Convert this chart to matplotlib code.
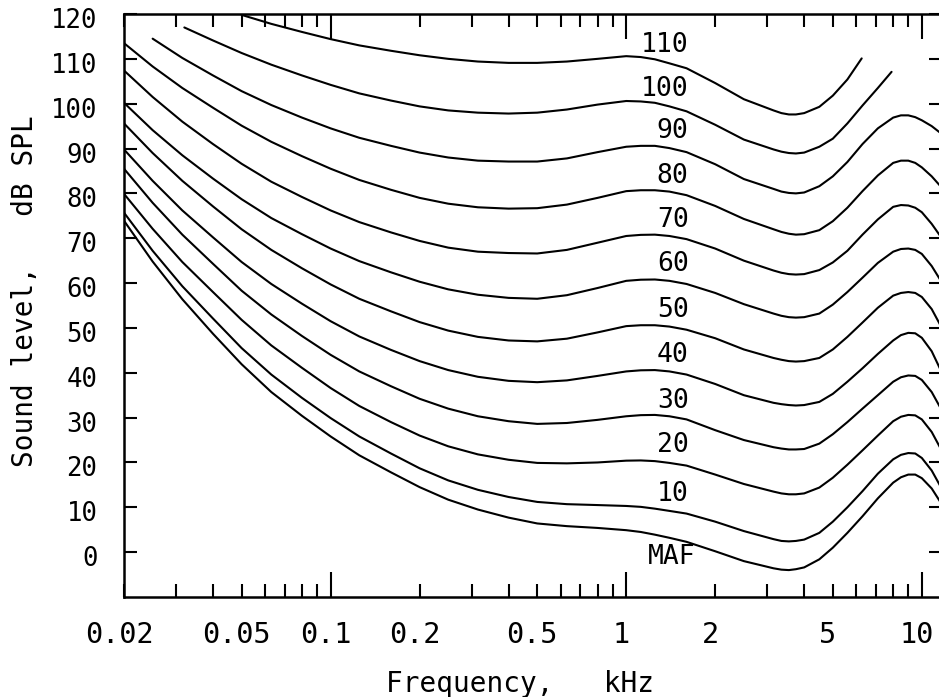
import matplotlib
matplotlib.use("Agg")
import matplotlib.pyplot as plt
from matplotlib.ticker import FixedLocator, FixedFormatter
from matplotlib.transforms import ScaledTranslation

# ---------------- data ----------------
freq = [0.02, 0.025, 0.0315, 0.04, 0.05, 0.063, 0.08, 0.1, 0.125, 0.16, 0.2, 0.25,
        0.315, 0.4, 0.5, 0.63, 0.8, 1.0, 1.12, 1.25, 1.4, 1.6, 2.0, 2.5, 3.15, 3.35,
        3.55, 3.75, 4.0, 4.5, 5.0, 5.6, 6.3, 7.1, 8.0, 8.5, 9.0, 9.5, 10.0, 10.8, 11.6]

maf = [73.9, 64.8, 56.4, 48.7, 41.9, 35.7, 30.4, 25.8, 21.6, 17.8, 14.5, 11.7, 9.5, 7.7,
       6.4, 5.8, 5.4, 4.9,
       4.5, 3.9, 3.2, 2.3, 0.2, -2.0, -3.6, -3.9, -4.0, -3.8, -3.4, -1.6, 1.0, 4.3, 8.0,
       12.0, 15.5, 16.7, 17.3, 17.3, 16.5, 14.2, 11.0]
phon10 = [75.7, 67.2, 59.3, 52.1, 45.5, 39.6, 34.4, 29.9, 25.8, 22.0, 18.7, 16.0, 13.9,
          12.3, 11.2, 10.7, 10.5, 10.3,
          10.1, 9.7, 9.2, 8.6, 6.8, 4.7, 2.9, 2.5, 2.4, 2.5, 2.8, 4.3, 6.8, 10.0, 13.6,
          17.5, 20.7, 21.7, 22.1, 22.0, 21.0, 18.2, 14.5]
phon20 = [79.9, 72.1, 64.7, 58.0, 51.8, 46.1, 41.1, 36.6, 32.6, 29.0, 26.0, 23.6, 21.8,
          20.6, 19.9, 19.8, 20.0, 20.4,
          20.45, 20.3, 19.9, 19.3, 17.3, 15.2, 13.5, 13.1, 12.9, 12.9, 13.1, 14.4, 16.6,
          19.5, 22.7, 26.0, 29.2, 30.2, 30.6, 30.5, 29.6, 26.8, 23.0]
phon30 = [85.5, 77.9, 70.8, 64.3, 58.3, 53.0, 48.2, 44.0, 40.3, 37.0, 34.2, 32.0, 30.3,
          29.2, 28.6, 28.8, 29.5, 30.3,
          30.55, 30.6, 30.3, 29.6, 27.2, 25.0, 23.4, 23.1, 22.9, 22.9, 23.0, 24.2, 26.3,
          29.0, 32.0, 35.0, 38.0, 39.0, 39.4, 39.3, 38.4, 35.7, 32.0]
phon40 = [89.8, 82.8, 76.2, 70.2, 64.7, 59.8, 55.4, 51.5, 48.1, 45.1, 42.6, 40.6, 39.1,
          38.2, 37.9, 38.3, 39.3, 40.3,
          40.55, 40.6, 40.3, 39.6, 37.5, 35.0, 33.3, 33.0, 32.8, 32.7, 32.8, 33.5, 35.3,
          38.0, 41.0, 44.2, 47.2, 48.4, 48.9, 48.8, 47.8, 44.8, 40.5]
phon50 = [95.6, 89.0, 82.8, 77.1, 72.0, 67.4, 63.3, 59.7, 56.5, 53.7, 51.3, 49.4, 48.0,
          47.2, 47.0, 47.6, 49.0, 50.4,
          50.6, 50.6, 50.3, 49.6, 47.7, 45.2, 43.3, 42.9, 42.6, 42.5, 42.6, 43.3, 45.2,
          48.0, 51.2, 54.5, 57.2, 57.8, 58.0, 57.8, 56.9, 54.2, 50.4]
phon60 = [100.2, 94.1, 88.5, 83.3, 78.7, 74.5, 70.9, 67.7, 64.9, 62.4, 60.3, 58.6, 57.4,
          56.7, 56.5, 57.3, 58.9, 60.5,
          60.75, 60.8, 60.5, 59.8, 57.8, 55.3, 53.2, 52.7, 52.4, 52.3, 52.4, 53.2, 55.2,
          58.0, 61.2, 64.5, 67.0, 67.6, 67.7, 67.4, 66.5, 63.8, 60.5]
phon70 = [107.4, 101.5, 96.0, 91.0, 86.6, 82.6, 79.2, 76.2, 73.6, 71.3, 69.4, 67.9, 67.0,
          66.7, 66.6, 67.4, 69.0, 70.5,
          70.75, 70.8, 70.5, 69.8, 67.7, 65.0, 62.8, 62.3, 62.0, 61.9, 62.0, 62.9, 64.6,
          67.2, 70.8, 74.2, 77.0, 77.4, 77.3, 76.8, 75.8, 73.2, 70.3]
phon80 = [113.5, 108.3, 103.5, 99.1, 95.1, 91.5, 88.3, 85.5, 83.0, 80.8, 79.0, 77.7, 76.9,
          76.6, 76.7, 77.5, 79.0, 80.5,
          80.7, 80.7, 80.4, 79.6, 77.2, 74.3, 72.0, 71.4, 71.0, 70.8, 70.9, 71.8, 73.8,
          76.8, 80.5, 84.0, 86.8, 87.3, 87.3, 86.8, 85.8, 83.8, 81.5]

freq90 = freq[1:]
phon90 = [114.5, 110.2, 106.3, 102.8, 99.7, 96.9, 94.5, 92.4, 90.6, 89.1, 88.0, 87.3,
          87.1, 87.1, 87.8, 89.2, 90.4,
          90.6, 90.6, 90.1, 89.2, 86.5, 83.2, 81.0, 80.4, 80.1, 80.0, 80.2, 81.6, 83.8,
          87.0, 91.0, 94.5, 96.9, 97.4, 97.4, 97.0, 96.3, 95.0, 93.4]

freq100 = [0.032, 0.04, 0.05, 0.063, 0.08, 0.1, 0.125, 0.16, 0.2, 0.25, 0.315, 0.4,
           0.5, 0.63, 0.8, 1.0, 1.12, 1.25, 1.4, 1.6, 2.0, 2.5, 3.15, 3.35, 3.55, 3.75,
           4.0, 4.5, 5.0, 5.6, 6.3, 7.1, 7.9]
phon100 = [117.0, 114.1, 111.3, 108.7, 106.3, 104.2, 102.3, 100.7, 99.4, 98.5, 98.0, 97.8,
           98.0, 98.7, 99.8, 100.6, 100.5, 100.2, 99.4, 98.3, 95.3, 92.0, 89.8, 89.3, 89.0,
           88.9, 89.1, 90.4, 92.2, 95.6, 99.6, 103.5, 107.1]

freq110 = [0.05, 0.063, 0.08, 0.1, 0.125, 0.16, 0.2, 0.25, 0.315, 0.4, 0.5, 0.63,
           0.8, 1.0, 1.12, 1.25, 1.4, 1.6, 2.0, 2.5, 3.15, 3.35, 3.55, 3.75, 4.0, 4.5,
           5.0, 5.6, 6.26]
phon110 = [119.8, 117.8, 116.0, 114.4, 113.0, 111.8, 110.8, 110.0, 109.4, 109.1, 109.1,
           109.4, 110.0, 110.6, 110.4, 109.9, 109.0, 107.9, 104.6, 101.0, 98.5, 97.9, 97.6,
           97.6, 97.9, 99.3, 101.8, 105.4, 110.1]

curves = [(freq, maf), (freq, phon10), (freq, phon20), (freq, phon30), (freq, phon40),
          (freq, phon50), (freq, phon60), (freq, phon70), (freq, phon80),
          (freq90, phon90), (freq100, phon100), (freq110, phon110)]

curve_labels = ["MAF", "10", "20", "30", "40", "50", "60", "70", "80", "90", "100", "110"]
label_levels = [-1.1, 13.0, 23.8, 33.8, 43.9, 54.1, 64.2, 74.0, 83.9, 93.8, 103.3, 113.0]

yticks = [0, 10, 20, 30, 40, 50, 60, 70, 80, 90, 100, 110, 120]
xmajor = [0.1, 1, 10]
xmajor_labels = ["0.1", "1", "10"]
xminor = [0.02, 0.03, 0.04, 0.05, 0.06, 0.07, 0.08, 0.09,
          0.2, 0.3, 0.4, 0.5, 0.6, 0.7, 0.8, 0.9,
          2, 3, 4, 5, 6, 7, 8, 9]
xminor_labels = {0.02: "0.02", 0.05: "0.05", 0.2: "0.2", 0.5: "0.5", 2: "2", 5: "5"}

# ---------------- figure ----------------
FONT = "DejaVu Sans Mono"
plt.rcParams['font.family'] = [FONT, 'DejaVu Sans']

W, H = 939, 697
fig = plt.figure(figsize=(W / 100, H / 100), dpi=100)
ax = fig.add_axes([124 / W, (H - 597) / H, (W - 124) / W + 0.002, (597 - 14) / H])

for fx, fy in curves:
    ax.plot(fx, fy, color="black", lw=1.5, solid_capstyle="round", solid_joinstyle="round")

ax.set_xscale("log")
ax.set_xlim(0.02, 11.6)
ax.set_ylim(-10, 120)

for lab, lev in zip(curve_labels, label_levels):
    if lab == "MAF":
        ax.text(1.43, lev, lab, ha="center", va="center", fontsize=19)
    else:
        ax.text(1.625, lev, lab, ha="right", va="center", fontsize=19)

# ticks
ax.set_yticks(yticks)
ax.set_yticklabels([str(v) for v in yticks])
ax.xaxis.set_major_locator(FixedLocator(xmajor))
ax.xaxis.set_major_formatter(FixedFormatter(xmajor_labels))
ax.xaxis.set_minor_locator(FixedLocator(xminor))
ax.xaxis.set_minor_formatter(FixedFormatter([xminor_labels.get(v, "") for v in xminor]))

ax.tick_params(axis="y", which="major", direction="in", length=9, width=1.5,
               left=True, right=True, labelsize=18.5, pad=19)
ax.tick_params(axis="x", which="major", direction="in", length=18, width=1.5,
               bottom=True, top=True, labelsize=20.5, pad=17)
ax.tick_params(axis="x", which="minor", direction="in", length=9.5, width=1.5,
               bottom=True, top=True, labelsize=20.5, pad=17)

for s in ax.spines.values():
    s.set_linewidth(1.8)

# small offsets of the tick labels, as in the plotter original
xshift = ScaledTranslation(-5 / 100, 0, fig.dpi_scale_trans)
for lbl in ax.get_xticklabels(which="both"):
    lbl.set_transform(lbl.get_transform() + xshift)
yshift = ScaledTranslation(0, -4 / 100, fig.dpi_scale_trans)
for lbl in ax.get_yticklabels():
    lbl.set_transform(lbl.get_transform() + yshift)

fig.text(520 / W, (H - 692) / H, "Frequency,   kHz", ha="center", va="baseline", fontsize=20)
fig.text(33 / W, (H - 291) / H, "Sound level,   dB SPL", rotation=90, rotation_mode="anchor",
         ha="center", va="baseline", fontsize=20)

fig.savefig("out.png", dpi=100)
